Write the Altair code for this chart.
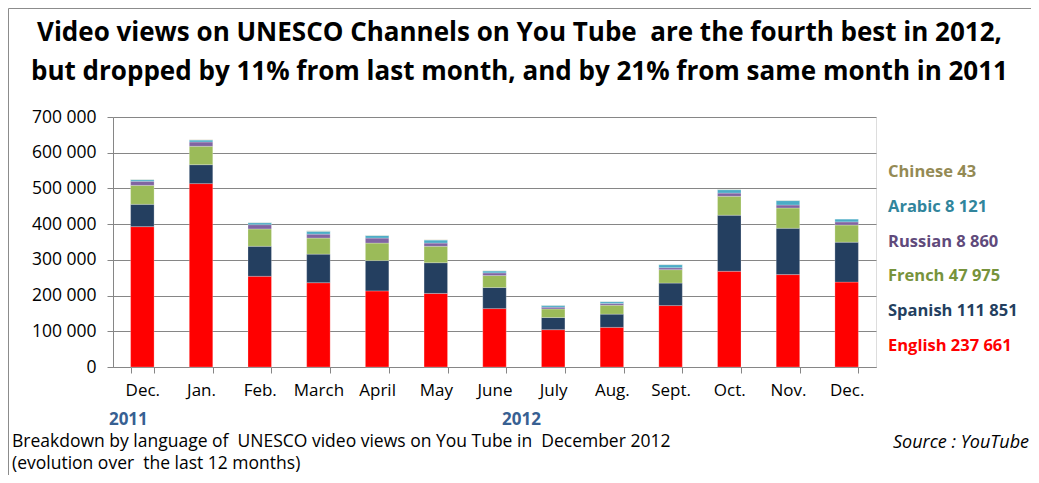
import altair as alt
import pandas as pd

months = ["Dec.", "Jan.", "Feb.", "March", "April", "May", "June", "July",
          "Aug.", "Sept.", "Oct.", "Nov.", "Dec."]
keys = [f"{m}|{i}" for i, m in enumerate(months)]

languages = ["English", "Spanish", "French", "Russian", "Arabic", "Chinese"]
english = [393000, 513500, 254000, 236000, 213000, 206000, 163500, 104500, 111000, 172000, 268000, 258700, 237661]
spanish = [62500, 53000, 84000, 80000, 85000, 86000, 59000, 34000, 37000, 63000, 157000, 129700, 111851]
french = [53000, 51500, 48500, 45000, 49000, 46000, 33500, 24000, 25000, 37500, 53000, 56800, 47975]
russian = [11500, 12000, 12000, 11000, 14000, 9000, 7500, 5000, 5000, 5500, 9000, 8400, 8860]
arabic = [4500, 5500, 5500, 8000, 7000, 8500, 5500, 5000, 5000, 8500, 9500, 12300, 8121]
chinese = [800, 900, 700, 1500, 800, 800, 700, 600, 500, 600, 700, 800, 43]

fill_colors = ["#FF0000", "#243F60", "#9BBB59", "#8064A2", "#4BACC6", "#C4BD97"]
text_colors = ["#FF0000", "#243F60", "#77933C", "#604A7B", "#31859C", "#948A54"]

series = [english, spanish, french, russian, arabic, chinese]
rows = []
for li, (lang, vals) in enumerate(zip(languages, series)):
    for k, v in zip(keys, vals):
        rows.append({"key": k, "language": lang, "views": v, "order": li})
df = pd.DataFrame(rows)

def fmt(v):
    return f"{v:,}".replace(",", " ")

legend_order = ["Chinese", "Arabic", "Russian", "French", "Spanish", "English"]
legend_df = pd.DataFrame({
    "language": legend_order,
    "label": [f"{l} {fmt(series[languages.index(l)][-1])}" for l in legend_order],
})

NB = "\u00a0"
FONT = "Open Sans"
W, H = 763, 250
PAD = {"left": 105, "top": 109, "right": 155, "bottom": 108}

title_lines = [f"Video views on UNESCO Channels on You Tube {NB}are the fourth best in 2012,",
               "but dropped by 11% from last month, and by 21% from same month in 2011"]

x_enc = alt.X("key:N", sort=keys,
              scale=alt.Scale(paddingInner=0.6, paddingOuter=0.3),
              axis=alt.Axis(title=None, labelExpr="split(datum.label, '|')[0]",
                            labelAngle=0, labelFont=FONT, labelFontSize=17,
                            labelColor="black", labelPadding=9, tickBand="extent",
                            tickSize=6, tickColor="#868686", domainColor="#868686",
                            grid=False))

bars = alt.Chart(df).mark_bar(stroke="white", strokeWidth=0.4, strokeOpacity=0.6).encode(
    x=x_enc,
    y=alt.Y("views:Q", stack="zero",
            scale=alt.Scale(domain=[0, 700000]),
            axis=alt.Axis(title=None, values=list(range(0, 700001, 100000)),
                          labelExpr="replace(format(datum.value, ','), regexp(',', 'g'), ' ')",
                          labelFont=FONT, labelFontSize=17.5, labelColor="black",
                          tickSize=6, tickColor="#868686", domainColor="#868686",
                          gridColor="#868686", gridWidth=1, labelPadding=11)),
    color=alt.Color("language:N", scale=alt.Scale(domain=languages, range=fill_colors), legend=None),
    order=alt.Order("order:Q", sort="ascending"),
)

legend = alt.Chart(legend_df).mark_text(align="left", baseline="middle", font=FONT,
                                        fontSize=16.5, fontWeight="bold").encode(
    x=alt.value(775),
    y=alt.Y("language:N", sort=legend_order,
            scale=alt.Scale(type="point", range=[55, 229], padding=0), axis=None),
    text="label:N",
    color=alt.Color("language:N", scale=alt.Scale(domain=languages, range=text_colors), legend=None),
)

years_df = pd.DataFrame({"key": [keys[0], keys[6]], "year": ["2011", "2012"]})
year11 = alt.Chart(years_df.iloc[[0]]).mark_text(font=FONT, fontSize=17, fontWeight="bold",
                                                  color="#376092", dx=-14, baseline="middle").encode(
    x=alt.X("key:N", sort=keys), y=alt.value(303), text="year:N")
year12 = alt.Chart(years_df.iloc[[1]]).mark_text(font=FONT, fontSize=17, fontWeight="bold",
                                                  color="#376092", dx=27, baseline="middle").encode(
    x=alt.X("key:N", sort=keys), y=alt.value(303), text="year:N")

notes_df = pd.DataFrame({"t": [f"Breakdown by language of {NB}UNESCO video views on You Tube in {NB}December 2012",
                               f"(evolution over {NB}the last 12 months)"]})
note1 = alt.Chart(notes_df.iloc[[0]]).mark_text(font=FONT, fontSize=17.5, align="left",
                                                baseline="middle", color="black").encode(
    x=alt.value(-101), y=alt.value(325), text="t:N")
note2 = alt.Chart(notes_df.iloc[[1]]).mark_text(font=FONT, fontSize=17.5, align="left",
                                                baseline="middle", color="black").encode(
    x=alt.value(-101), y=alt.value(347), text="t:N")
source = alt.Chart(pd.DataFrame({"t": ["Source : YouTube"]})).mark_text(
    font=FONT, fontSize=18, fontStyle="italic", align="right", baseline="middle", color="black").encode(
    x=alt.value(916), y=alt.value(326), text="t:N")

tdf = pd.DataFrame({"t": title_lines})
title1 = alt.Chart(tdf.iloc[[0]]).mark_text(font=FONT, fontSize=26, fontWeight="bold",
                                            align="center", baseline="middle", color="black").encode(
    x=alt.value(406.5), y=alt.value(-84), text="t:N")
title2 = alt.Chart(tdf.iloc[[1]]).mark_text(font=FONT, fontSize=26, fontWeight="bold",
                                            align="center", baseline="middle", color="black").encode(
    x=alt.value(406.5), y=alt.value(-45), text="t:N")

fdf = pd.DataFrame({"f": [1]})
frame_top = alt.Chart(fdf).mark_rule(stroke="#8C8C8C", strokeWidth=1).encode(
    x=alt.value(-104.5), x2=alt.value(918), y=alt.value(-108.5), y2=alt.value(-108.5))
frame_left = alt.Chart(fdf).mark_rule(stroke="#8C8C8C", strokeWidth=1).encode(
    x=alt.value(-104.5), x2=alt.value(-104.5), y=alt.value(-108.5), y2=alt.value(366))

chart = alt.layer(frame_top, frame_left, bars, legend, year11, year12, note1, note2, source,
                  title1, title2).resolve_scale(
    y="independent", color="independent"
).properties(
    width=W, height=H,
    autosize=alt.AutoSizeParams(type="none"),
    padding=PAD,
).configure_view(stroke=None).configure(background="white")

chart.save("out.html", embed_options={"renderer": "svg", "actions": False})
